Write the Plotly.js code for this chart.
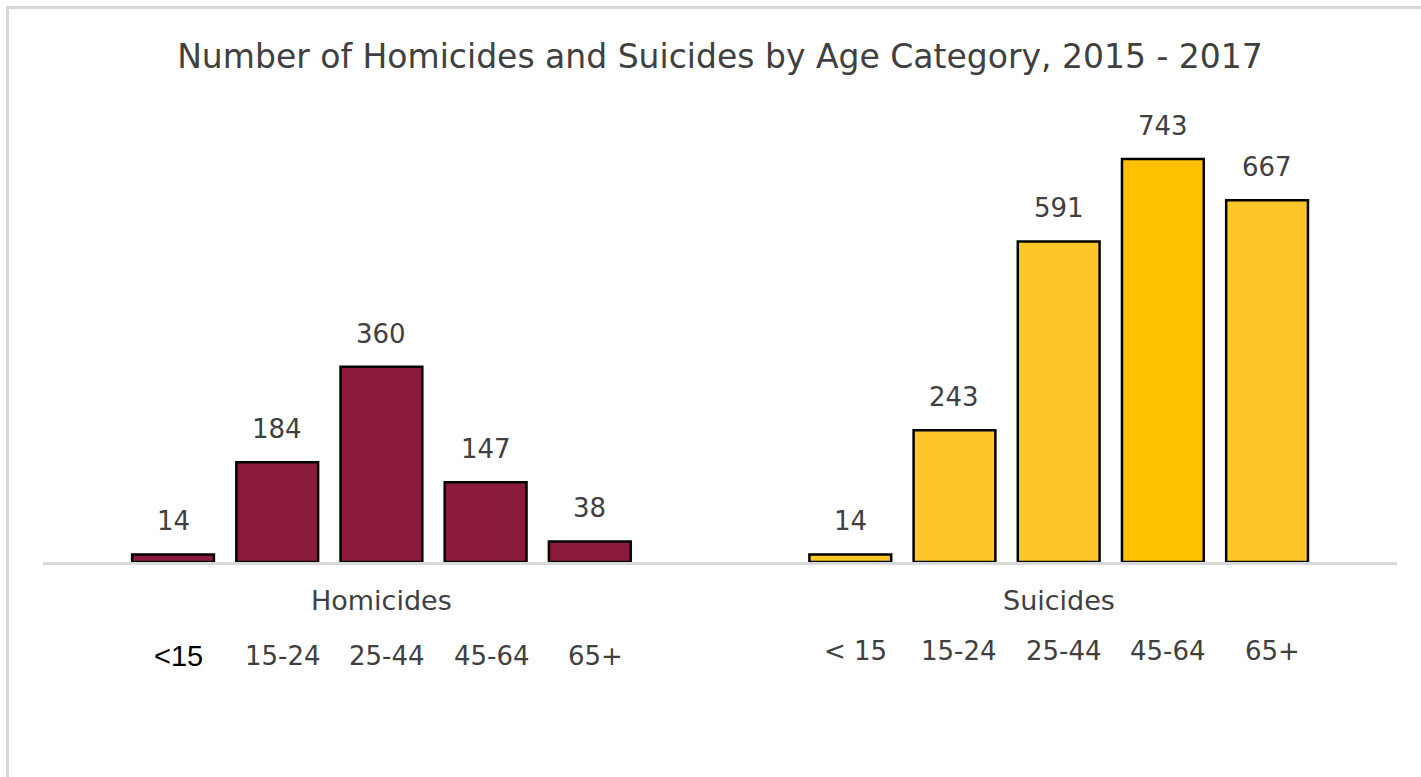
<!DOCTYPE html>
<html>
<head>
<meta charset="utf-8">
<script src="https://cdn.plot.ly/plotly-3.0.1.min.js"></script>
<style>
html,body{margin:0;padding:0;background:#fff;}
#chart{width:1421px;height:777px;}
</style>
</head>
<body>
<div id="chart"></div>
<script>
// ---- data ----
var chartTitle = "Number of Homicides and Suicides by Age Category, 2015 - 2017";
var groupNames = ["Homicides", "Suicides"];
var homicideAges = ["<15", "15-24", "25-44", "45-64", "65+"];
var suicideAges = ["< 15", "15-24", "25-44", "45-64", "65+"];
var homicideValues = [14, 184, 360, 147, 38];
var suicideValues = [14, 243, 591, 743, 667];

// ---- styling / layout ----
var TEXT = "#404040";
var FONT = "DejaVu Sans, sans-serif";
var maroon = "#8B1B3D";
var gold = "#FFC629";
var goldDeep = "#FFC000";
var groupGap = 6.5;

var hx = homicideValues.map(function (v, i) { return i; });
var sx = suicideValues.map(function (v, i) { return i + groupGap; });

var suicideColors = suicideValues.map(function (v) {
  var mx = Math.max.apply(null, suicideValues);
  return v === mx ? goldDeep : gold;
});

var traces = [
  {
    type: "bar", name: groupNames[0], x: hx, y: homicideValues,
    width: 0.785,
    marker: { color: maroon, line: { color: "#000", width: 2.5 } },
    hoverinfo: "y"
  },
  {
    type: "bar", name: groupNames[1], x: sx, y: suicideValues,
    width: 0.785,
    marker: { color: suicideColors, line: { color: "#000", width: 2.5 } },
    hoverinfo: "y"
  }
];

var annotations = [];
function addValueLabels(xs, vals) {
  xs.forEach(function (x, i) {
    annotations.push({
      x: x, y: vals[i], xref: "x", yref: "y",
      text: String(vals[i]), showarrow: false,
      xanchor: "center", yanchor: "middle", yshift: 33,
      font: { family: FONT, size: 26, color: TEXT }
    });
  });
}
addValueLabels(hx, homicideValues);
addValueLabels(sx, suicideValues);

homicideAges.forEach(function (a, i) {
  var first = (i === 0);
  annotations.push({
    x: hx[i], y: 0, xref: "x", yref: "y",
    text: a, showarrow: false, xanchor: "center", yanchor: "middle",
    xshift: first ? 5 : 6, yshift: -94,
    font: first ? { family: "Liberation Sans, Arial, sans-serif", size: 29, color: "#000" }
                : { family: FONT, size: 26, color: TEXT }
  });
});
suicideAges.forEach(function (a, i) {
  annotations.push({
    x: sx[i], y: 0, xref: "x", yref: "y",
    text: a, showarrow: false, xanchor: "center", yanchor: "middle",
    xshift: 5, yshift: -89,
    font: { family: FONT, size: 26, color: TEXT }
  });
});

function mean(a) { return a.reduce(function (s, v) { return s + v; }, 0) / a.length; }
[hx, sx].forEach(function (xs, g) {
  annotations.push({
    x: mean(xs), y: 0, xref: "x", yref: "y",
    text: groupNames[g], showarrow: false, xanchor: "center", yanchor: "middle",
    yshift: -38,
    font: { family: FONT, size: 27, color: TEXT }
  });
});

var layout = {
  width: 1421, height: 777,
  margin: { l: 43, r: 24, t: 128, b: 215, pad: 0 },
  paper_bgcolor: "#fff", plot_bgcolor: "#fff",
  showlegend: false,
  title: {
    text: chartTitle,
    font: { family: FONT, size: 33, color: TEXT },
    x: 0.5, xref: "paper", xanchor: "center",
    y: 1 - 56 / 777, yref: "container", yanchor: "middle"
  },
  xaxis: {
    range: [-1.248, 11.747], showticklabels: false, showgrid: false,
    zeroline: false, showline: true, linecolor: "#d9d9d9", linewidth: 2.5,
    ticks: "", fixedrange: true
  },
  yaxis: {
    range: [0, 800], visible: false, showgrid: false, zeroline: false, fixedrange: true
  },
  annotations: annotations,
  shapes: [{
    type: "rect", xref: "paper", yref: "paper",
    x0: (7.5 - 43) / 1354, x1: (1440 - 43) / 1354,
    y0: (562 - 800) / 434, y1: (562 - 7.5) / 434,
    line: { color: "#d9d9d9", width: 3 }, fillcolor: "rgba(0,0,0,0)", layer: "below"
  }]
};

Plotly.newPlot("chart", traces, layout, { displayModeBar: false, staticPlot: true });
</script>
</body>
</html>
